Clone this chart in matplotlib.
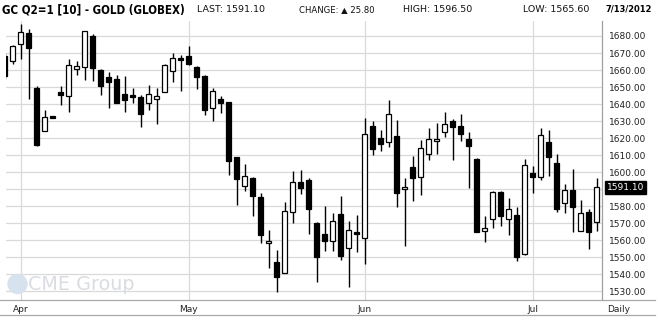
import numpy as np
import pandas as pd
import matplotlib
matplotlib.use("Agg")
import matplotlib.pyplot as plt
from matplotlib import font_manager
from matplotlib.lines import Line2D
from matplotlib.patches import Ellipse

# trading days shown (Globex closed on Memorial Day and July 4th)
dates = pd.bdate_range("2012-03-29", "2012-07-13")
dates = dates.drop(pd.to_datetime(["2012-05-28", "2012-07-04"]))

opens = [1668.3, 1665.2, 1675.5, 1681.8, 1649.7, 1624.1, 1632.5, 1647.2, 1644.6, 1660.5,
         1662.0, 1679.8, 1660.1, 1655.8, 1654.8, 1646.0, 1645.4, 1644.3, 1640.5, 1642.9,
         1647.0, 1659.3, 1667.1, 1668.1, 1661.6, 1656.6, 1637.6, 1643.1, 1641.3, 1608.7,
         1591.9, 1596.8, 1585.5, 1558.5, 1547.4, 1540.9, 1576.7, 1594.5, 1595.6, 1570.4,
         1563.8, 1559.5, 1575.7, 1555.6, 1564.5, 1561.4, 1627.1, 1620.2, 1617.7, 1621.2,
         1590.2, 1603.0, 1597.2, 1610.7, 1618.3, 1623.6, 1630.0, 1627.3, 1619.6, 1607.9,
         1565.5, 1572.6, 1588.4, 1572.6, 1574.9, 1551.7, 1599.5, 1597.0, 1617.7, 1605.4,
         1582.0, 1589.6, 1565.7, 1576.5, 1570.8]
highs = [1670.0, 1674.7, 1687.0, 1684.1, 1650.5, 1636.6, 1632.6, 1650.7, 1666.5, 1665.2,
         1683.0, 1681.0, 1660.7, 1658.9, 1657.2, 1656.6, 1649.5, 1645.2, 1651.1, 1649.5,
         1663.6, 1670.0, 1669.1, 1674.1, 1662.6, 1656.8, 1649.3, 1644.8, 1641.5, 1608.9,
         1605.0, 1597.2, 1588.0, 1566.3, 1554.4, 1582.7, 1600.5, 1601.5, 1596.6, 1570.8,
         1580.4, 1576.1, 1586.1, 1571.4, 1574.9, 1631.8, 1630.0, 1624.7, 1642.3, 1630.6,
         1596.6, 1609.7, 1619.1, 1626.1, 1629.0, 1635.5, 1631.4, 1634.3, 1623.6, 1608.3,
         1574.5, 1589.2, 1588.8, 1585.1, 1579.8, 1607.7, 1603.8, 1625.9, 1624.7, 1610.7,
         1593.1, 1601.9, 1583.9, 1578.6, 1596.5]
lows = [1654.5, 1663.8, 1666.7, 1642.7, 1615.5, 1624.0, 1631.8, 1639.2, 1635.1, 1656.8,
        1654.4, 1653.8, 1645.6, 1637.4, 1640.5, 1635.1, 1640.9, 1626.3, 1636.8, 1628.2,
        1646.8, 1653.2, 1647.4, 1663.0, 1649.1, 1633.5, 1629.8, 1634.5, 1598.2, 1580.6,
        1588.8, 1574.1, 1558.5, 1543.7, 1529.8, 1540.7, 1570.0, 1587.0, 1563.6, 1535.5,
        1553.6, 1553.6, 1548.4, 1532.5, 1553.0, 1546.2, 1610.1, 1612.2, 1614.6, 1579.4,
        1556.6, 1582.9, 1586.4, 1607.0, 1610.5, 1620.4, 1607.0, 1618.1, 1590.5, 1564.8,
        1559.1, 1567.3, 1568.3, 1563.0, 1547.8, 1551.5, 1587.6, 1595.2, 1597.6, 1576.5,
        1575.9, 1564.8, 1565.5, 1554.8, 1565.6]
closes = [1656.2, 1673.9, 1682.3, 1673.2, 1615.7, 1632.3, 1632.0, 1645.6, 1662.8, 1662.2,
          1682.7, 1661.4, 1650.9, 1652.9, 1640.9, 1642.5, 1644.1, 1634.1, 1645.8, 1644.6,
          1662.8, 1666.9, 1665.7, 1663.8, 1655.8, 1636.3, 1647.8, 1640.4, 1606.4, 1595.8,
          1598.0, 1585.9, 1563.0, 1559.7, 1538.6, 1577.3, 1594.3, 1590.5, 1578.2, 1550.3,
          1559.5, 1571.4, 1550.9, 1565.9, 1563.6, 1622.6, 1613.4, 1616.5, 1634.1, 1587.6,
          1591.3, 1596.4, 1614.2, 1619.5, 1619.5, 1628.2, 1626.3, 1622.2, 1615.2, 1565.0,
          1567.3, 1588.4, 1574.1, 1578.4, 1550.3, 1604.0, 1597.0, 1621.8, 1608.9, 1578.4,
          1589.6, 1579.6, 1575.9, 1565.0, 1591.1]

price_ticks = list(range(1530, 1690, 10))
last_price = 1591.10
header_title = "GC Q2=1 [10] - GOLD (GLOBEX)"
header_items = ["LAST: 1591.10", "CHANGE: \u25b2 25.80", "HIGH: 1596.50", "LOW: 1565.60"]
header_date = "7/13/2012"

names = {f.name for f in font_manager.fontManager.ttflist}
narrow = "Liberation Sans Narrow" if "Liberation Sans Narrow" in names else "DejaVu Sans"

W, H = 658, 320
fig = plt.figure(figsize=(W / 100, H / 100), dpi=100)
ax = fig.add_axes([6 / W, 20 / H, 596 / W, 279 / H])

x = np.arange(len(dates))
grid_c = "#d9d9d9"
for p in price_ticks:
    ax.axhline(p, color=grid_c, lw=0.9, zorder=0)

# first trading day of each month
month_start = [i for i in range(1, len(dates)) if dates[i].month != dates[i - 1].month]
for i in month_start:
    ax.axvline(i, color=grid_c, lw=0.9, zorder=0)
    ax.annotate(dates[i].strftime("%b"), xy=(i, 0), xycoords=("data", "axes fraction"),
                xytext=(0, -6.8), textcoords="offset points", ha="center", va="center",
                fontsize=6.5, color="#222222")

body_w = 0.58
for i in x:
    o, h, l, c = opens[i], highs[i], lows[i], closes[i]
    ax.vlines(i, l, h, color="black", lw=1.0, zorder=2)
    lo, hi = min(o, c), max(o, c)
    if hi - lo < 1.2:
        mid = (hi + lo) / 2
        lo, hi = mid - 0.6, mid + 0.6
    face = "white" if c > o else "black"
    ax.bar(i, hi - lo, bottom=lo, width=body_w, color=face, edgecolor="black",
           lw=0.9, zorder=3)

ax.set_xlim(0.16, 74.66)
ax.set_ylim(1524.9, 1688.8)
ax.set_xticks([])
ax.yaxis.tick_right()
ax.set_yticks(price_ticks)
ax.set_yticklabels(["" if p == 1590 else "%.2f" % p for p in price_ticks])
ax.tick_params(axis="y", length=0, pad=5, labelsize=6.5, labelcolor="#222222")
for s in ["top", "left", "bottom"]:
    ax.spines[s].set_visible(False)
ax.spines["right"].set_color("#a0a0a0")
ax.spines["right"].set_linewidth(0.9)

ax.annotate("1591.10", xy=(1.0, last_price), xycoords=("axes fraction", "data"),
            xytext=(3.5, 0), textcoords="offset points", ha="left", va="center",
            fontsize=6.5, color="white",
            bbox=dict(boxstyle="square,pad=0.25", fc="black", ec="black"))

ax.annotate("Daily", xy=(1.0, 0), xycoords="axes fraction", xytext=(4, -6.8),
            textcoords="offset points", ha="left", va="center", fontsize=6.5,
            color="#222222")

# watermark
fig.add_artist(Ellipse((17.5 / W, (H - 284) / H), 19 / W, 19 / H,
                       transform=fig.transFigure, color="#d6e2ee", zorder=1))
fig.text(28 / W, (H - 284) / H, "CME Group", fontsize=13.8, color="#d9dde2",
         ha="left", va="center", zorder=1)

# frame lines under the chart
for yy in (300, 315):
    fig.add_artist(Line2D([0, 655 / W], [(H - yy) / H] * 2, color="#a8a8a8", lw=0.9))

# header
hy = 1 - 9.5 / H
title = fig.text(2 / W, hy, header_title, fontsize=10, fontweight="bold", family=narrow,
                 fontstretch="condensed", ha="left", va="center")
small = []
for xx, t in zip([197, 299, 403, 523], header_items):
    small.append(fig.text(xx / W, hy, t, fontsize=6.8, ha="left", va="center",
                          color="#111111"))
date_t = fig.text(652 / W, hy, header_date, fontsize=10, fontweight="bold",
                  family=narrow, fontstretch="condensed", ha="right", va="center")

# shrink header texts to the widths they take in the original
fig.canvas.draw()
r = fig.canvas.get_renderer()
for t, wpx in [(title, 183), (date_t, 47)] + list(zip(small, [72, 75, 79, 69])):
    w = t.get_window_extent(r).width
    if w > wpx:
        t.set_fontsize(t.get_fontsize() * wpx / w)

fig.savefig("out.png", dpi=100)
